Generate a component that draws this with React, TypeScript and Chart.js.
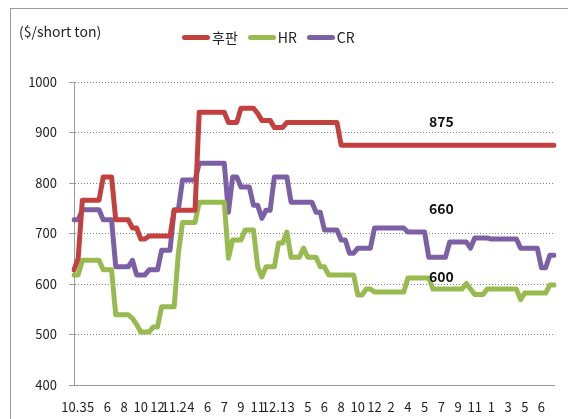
import React, { useEffect, useRef } from "react";
import { Chart, registerables } from "chart.js";

Chart.register(...registerables);

// x-axis tick labels (one every 4 data points)
const tickLabels = [
  "10.3", "5", "6", "8", "10", "12", "11.2", "4", "6", "7", "9", "11", "12.1", "3",
  "5", "6", "8", "10", "12", "2", "4", "5", "7", "9", "11", "1", "3", "5", "6",
];
const TICK_EVERY = 4;

const seriesNames = ["후판", "HR", "CR"];

// 후판 (plate)
const plate = [
  628, 651, 766, 766, 766, 766, 766, 812, 812, 812,
  727, 727, 727, 727, 711, 711, 689, 689, 695, 695,
  695, 695, 695, 695, 746, 746, 746, 746, 746, 746,
  940, 940, 940, 940, 940, 940, 940, 920, 920, 920,
  948, 948, 948, 948, 938, 924, 924, 924, 910, 910,
  910, 920, 920, 920, 920, 920, 920, 920, 920, 920,
  920, 920, 920, 920, 875, 875, 875, 875, 875, 875,
  875, 875, 875, 875, 875, 875, 875, 875, 875, 875,
  875, 875, 875, 875, 875, 875, 875, 875, 875, 875,
  875, 875, 875, 875, 875, 875, 875, 875, 875, 875,
  875, 875, 875, 875, 875, 875, 875, 875, 875, 875,
  875, 875, 875, 875, 875, 875,
];

// HR
const hr = [
  618, 618, 647, 647, 647, 647, 647, 628, 628, 628,
  539, 539, 539, 539, 532, 520, 505, 505, 505, 515,
  515, 555, 555, 555, 555, 660, 722, 722, 722, 722,
  762, 762, 762, 762, 762, 762, 762, 651, 687, 687,
  687, 707, 707, 707, 634, 614, 634, 634, 634, 681,
  681, 703, 653, 653, 653, 671, 653, 653, 653, 634,
  634, 618, 618, 618, 618, 618, 618, 618, 578, 578,
  590, 590, 584, 584, 584, 584, 584, 584, 584, 584,
  612, 612, 612, 612, 612, 612, 590, 590, 590, 590,
  590, 590, 590, 590, 601, 590, 579, 579, 579, 590,
  590, 590, 590, 590, 590, 590, 590, 569, 582, 582,
  582, 582, 582, 582, 598, 598,
];

// CR
const cr = [
  727, 727, 747, 747, 747, 747, 747, 727, 727, 727,
  634, 634, 634, 634, 647, 618, 618, 618, 628, 628,
  628, 667, 667, 667, 747, 747, 806, 806, 806, 806,
  839, 839, 839, 839, 839, 839, 839, 742, 812, 812,
  792, 792, 792, 756, 756, 730, 746, 746, 812, 812,
  812, 812, 762, 762, 762, 762, 762, 762, 742, 742,
  707, 707, 707, 707, 687, 687, 661, 661, 671, 671,
  671, 671, 711, 711, 711, 711, 711, 711, 711, 711,
  703, 703, 703, 703, 703, 653, 653, 653, 653, 653,
  683, 683, 683, 683, 683, 671, 691, 691, 691, 691,
  689, 689, 689, 689, 689, 689, 689, 671, 671, 671,
  671, 671, 632, 632, 657, 657,
];

const seriesColors = ["#c4403f", "#98bb50", "#7d5fa5"];

// value annotations
const noteTexts = ["875", "660", "600"];
const noteValues = [875, 660, 600];

const FONT = "'Noto Sans CJK KR', 'Noto Sans', sans-serif";

export default function App() {
  const ref = useRef<HTMLCanvasElement | null>(null);

  useEffect(() => {
    if (!ref.current) return;
    const labels = plate.map((_, i) => String(i));
    const noteIndex = 88;
    const noteDy = [-23, -45, -7];

    const notePlugin = {
      id: "notes",
      afterDatasetsDraw(chart: any) {
        const { ctx, scales } = chart;
        ctx.save();
        ctx.font = `bold 14px ${FONT}`;
        ctx.fillStyle = "#111";
        ctx.textAlign = "center";
        ctx.textBaseline = "middle";
        noteTexts.forEach((t, k) => {
          const x = scales.x.getPixelForValue(noteIndex);
          const y = scales.y.getPixelForValue(noteValues[k]) + noteDy[k];
          ctx.fillText(t, x, y);
        });
        ctx.restore();
      },
    };

    const chart = new Chart(ref.current, {
      type: "line",
      data: {
        labels,
        datasets: [plate, hr, cr].map((d, k) => ({
          label: seriesNames[k],
          data: d,
          borderColor: seriesColors[k],
          backgroundColor: seriesColors[k],
          borderWidth: 5,
          pointRadius: 0,
          tension: 0,
          borderJoinStyle: "round" as const,
          borderCapStyle: "round" as const,
        })),
      },
      options: {
        animation: false,
        responsive: false,
        maintainAspectRatio: false,
        layout: { padding: { left: 0, right: 8, top: 82, bottom: 0 } },
        plugins: {
          legend: { display: false },
          tooltip: { enabled: false },
          title: { display: false },
        },
        scales: {
          x: {
            type: "category",
            offset: false,
            afterFit: (s: any) => {
              s.height = 34;
            },
            grid: { display: false, drawTicks: false },
            border: { display: true, color: "#9a9a9a", width: 1 },
            ticks: {
              autoSkip: false,
              maxRotation: 0,
              minRotation: 0,
              padding: 14,
              color: "#222",
              font: { family: FONT, size: 13 },
              callback: (_v: any, i: number) =>
                i % TICK_EVERY === 0 ? tickLabels[i / TICK_EVERY] ?? "" : "",
            },
          },
          y: {
            min: 400,
            max: 1000,
            afterFit: (s: any) => {
              s.width = 74;
            },
            grid: {
              color: "#808080",
              lineWidth: 1,
              tickLength: 5,
              tickColor: "#9a9a9a",
              tickBorderDash: [],
            },
            border: { display: true, color: "#9a9a9a", width: 1, dash: [1, 2] },
            ticks: {
              stepSize: 100,
              padding: 12,
              color: "#222",
              font: { family: FONT, size: 13 },
              callback: (v: any) => String(v),
            },
          },
        },
      },
      plugins: [notePlugin],
    });
    return () => chart.destroy();
  }, []);

  const legendItem = (k: number) => (
    <span
      key={k}
      style={{ display: "inline-flex", alignItems: "center", marginRight: 10 }}
    >
      <span
        style={{
          display: "inline-block",
          width: 28,
          height: 5,
          borderRadius: 3,
          background: seriesColors[k],
          marginRight: 2,
        }}
      />
      <span>{seriesNames[k]}</span>
    </span>
  );

  return (
    <div
      style={{
        position: "fixed",
        left: 0,
        top: 0,
        width: 568,
        height: 419,
        background: "#fff",
        overflow: "hidden",
        fontFamily: FONT,
      }}
    >
      <div
        style={{
          position: "absolute",
          left: 10,
          top: 8,
          width: 570,
          height: 420,
          borderTop: "1px solid #9a9a9a",
          borderLeft: "1px solid #9a9a9a",
        }}
      />
      <canvas
        ref={ref}
        width={568}
        height={419}
        style={{ position: "absolute", left: 0, top: 0, width: 568, height: 419 }}
      />
      <div
        style={{
          position: "absolute",
          left: 19,
          top: 22,
          fontSize: 14,
          color: "#222",
          lineHeight: "18px",
        }}
      >
        ($/short ton)
      </div>
      <div
        style={{
          position: "absolute",
          left: 182,
          top: 27,
          fontSize: 14,
          color: "#222",
          lineHeight: "20px",
          display: "flex",
          whiteSpace: "nowrap",
        }}
      >
        {[0, 1, 2].map(legendItem)}
      </div>
    </div>
  );
}
